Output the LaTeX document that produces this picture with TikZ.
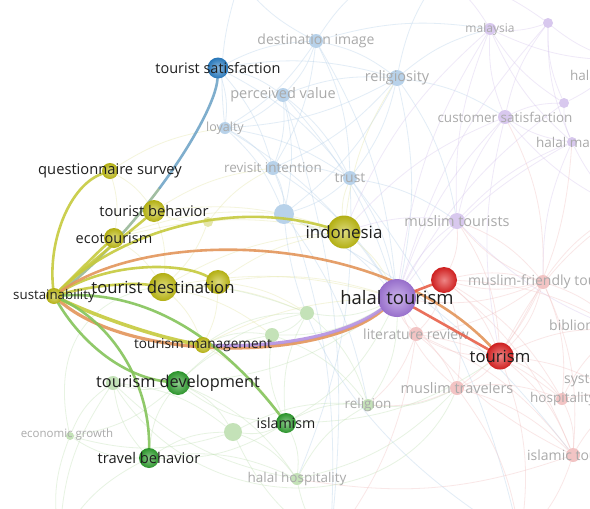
\documentclass[tikz,border=0pt]{standalone}
\usepackage{fontspec}
\setmainfont{Open Sans}
\pgfdeclarelayer{paper}
\pgfdeclarelayer{edgesbg}
\pgfdeclarelayer{faint}
\pgfdeclarelayer{edgesfg}
\pgfsetlayers{paper,edgesbg,faint,edgesfg,main}
\definecolor{yel}{HTML}{C2BE14}
\definecolor{grn}{HTML}{2EA02E}
\definecolor{blu}{HTML}{2A80C8}
\definecolor{pur}{HTML}{A478DC}
\definecolor{rd}{HTML}{E02222}
\definecolor{fblue}{HTML}{B8D2EA}
\definecolor{fpur}{HTML}{D8C8EE}
\definecolor{fred}{HTML}{F2C4C4}
\definecolor{fgrn}{HTML}{C4E2B8}
\definecolor{fyel}{HTML}{E4E6A8}
\definecolor{flbl}{HTML}{AAAAAA}
\definecolor{eyel}{HTML}{C6CA3E}
\definecolor{eora}{HTML}{E3955A}
\definecolor{egrn}{HTML}{84C45A}
\definecolor{eteal}{HTML}{98B898}
\definecolor{eblue}{HTML}{72A6C8}
\definecolor{epur}{HTML}{B492E2}
\definecolor{ered}{HTML}{E8614A}
\tikzset{
  ball/.style n args={2}{circle, inner sep=0pt, minimum size=#2,
    shading=radial, inner color=#1!55!white, outer color=#1!92!black},
  fnode/.style n args={2}{circle, inner sep=0pt, minimum size=#2, fill=#1},
  lbl/.style={inner sep=0pt, text=black!88, font=\fontsize{#1}{#1}\selectfont},
  flabel/.style={inner sep=0pt, text=flbl, font=\fontsize{#1}{#1}\selectfont},
  fedge/.style={draw=#1, line width=0.8pt, opacity=0.4},
  hedge/.style={draw=#1, line width=2.6pt, opacity=0.9, line cap=round},
}
\begin{document}
\begin{tikzpicture}[x=1pt,y=-1pt]
\useasboundingbox (0,0) rectangle (590,509);
\begin{pgfonlayer}{paper}
\fill[white] (0,0) rectangle (590,509);
\end{pgfonlayer}
\clip (0,0) rectangle (590,509);

% points just outside the frame where background links leave it
\coordinate (o1) at (380,-25);
\coordinate (o2) at (240,-20);
\coordinate (o3) at (620,60);
\coordinate (o4) at (625,210);
\coordinate (o5) at (620,330);
\coordinate (o6) at (625,400);
\coordinate (o7) at (520,540);
\coordinate (o8) at (330,545);
\coordinate (o9) at (60,540);
\coordinate (o10) at (440,-25);
% where the satisfaction link changes tint
\coordinate (tsmid) at (159.6,188);

% ---------- faint keywords ----------
\begin{pgfonlayer}{faint}
\node[fnode={fblue}{14pt}] (di) at (316,41) {};
\node[fnode={fblue}{14pt}] (pv) at (283,95) {};
\node[fnode={fblue}{16pt}] (rel) at (397,78) {};
\node[fnode={fblue}{12pt}] (loy) at (225,128) {};
\node[fnode={fblue}{14pt}] (ri) at (273,168) {};
\node[fnode={fblue}{14pt}] (tr) at (350,178) {};
\node[fnode={fblue}{20pt}] (bl1) at (284,214) {};
\node[fnode={fpur}{12pt}] (mal) at (490,29) {};
\node[fnode={fpur}{10pt}] (p1) at (548,23) {};
\node[fnode={fpur}{10pt}] (p2) at (564,103) {};
\node[fnode={fpur}{14pt}] (cs) at (505,117) {};
\node[fnode={fpur}{10pt}] (hm) at (572,142) {};
\node[fnode={fpur}{16pt}] (mt) at (457,221) {};
\node[fnode={fred}{14pt}] (mf) at (543,282) {};
\node[fnode={fred}{14pt}] (lr) at (416,334) {};
\node[fnode={fred}{12pt}] (hosp) at (562,399) {};
\node[fnode={fred}{14pt}] (it) at (573,455) {};
\node[fnode={fred}{14pt}] (mtr) at (457,388) {};
\node[fnode={fgrn}{12pt}] (relg) at (368,405) {};
\node[fnode={fgrn}{12pt}] (hh) at (297,479) {};
\node[fnode={fgrn}{18pt}] (g1) at (233,432) {};
\node[fnode={fgrn}{14pt}] (g2) at (113,383) {};
\node[fnode={fgrn}{14pt}] (g3) at (272,335) {};
\node[fnode={fgrn}{14pt}] (g4) at (307,313) {};
\node[fnode={fgrn}{8pt}] (eg) at (70,436) {};
\node[fnode={fyel}{10pt}] (y3) at (208,222) {};

\node[flabel=14] (di-l) at (di) {destination image};
\node[flabel=14.5] (pv-l) at (pv) {perceived value};
\node[flabel=14.5] (rel-l) at (rel) {religiosity};
\node[flabel=12.5] (loy-l) at (loy) {loyalty};
\node[flabel=13.5] (ri-l) at (ri) {revisit intention};
\node[flabel=14] (tr-l) at (tr) {trust};
\node[flabel=12] (mal-l) at (mal) {malaysia};
\node[flabel=13.5, anchor=west] (hal-l) at (570,75) {hala};
\node[flabel=13.5] (cs-l) at (cs) {customer satisfaction};
\node[flabel=13.5, anchor=west] (hm-l) at (536,142) {halal mar};
\node[flabel=14.5] (mt-l) at (mt) {muslim tourists};
\node[flabel=14, anchor=west] (mf-l) at (468,282) {muslim-friendly tou};
\node[flabel=14] (lr-l) at (lr) {literature review};
\node[flabel=14, anchor=west] (bib-l) at (549,325) {bibliom};
\node[flabel=14.5] (mtr-l) at (mtr) {muslim travelers};
\node[flabel=14, anchor=west] (sys-l) at (564,381) {syst};
\node[flabel=13.5, anchor=west] (hosp-l) at (530,399) {hospitality};
\node[flabel=14, anchor=west] (it-l) at (527,455) {islamic tou};
\node[flabel=13.5] (relg-l) at (relg) {religion};
\node[flabel=13.5] (hh-l) at (hh) {halal hospitality};
\node[flabel=11.5] (eg-l) at (67,435) {economic growth};
\end{pgfonlayer}

% ---------- highlighted keywords ----------
\node[ball={blu}{21pt}] (ts) at (218,68) {};
\node[ball={yel}{16pt}] (qs) at (110,171) {};
\node[ball={yel}{22pt}] (tb) at (154,211) {};
\node[ball={yel}{20pt}] (eco) at (114,238) {};
\node[ball={yel}{33pt}] (ind) at (344,232) {};
\node[ball={yel}{16pt}] (s) at (54,296) {};
\node[ball={yel}{28pt}] (td) at (163,287) {};
\node[ball={yel}{24pt}] (y2) at (218,282) {};
\node[ball={yel}{16pt}] (tm) at (203,345) {};
\node[ball={pur}{38pt}] (ht) at (397,298) {};
\node[ball={rd}{26pt}] (rn) at (444,280) {};
\node[ball={rd}{27pt}] (tou) at (500,356) {};
\node[ball={grn}{24pt}] (tdv) at (178,383) {};
\node[ball={grn}{20pt}] (isl) at (286,423) {};
\node[ball={grn}{20pt}] (tvb) at (149,458) {};

\node[lbl=14.5] (ts-l) at (ts) {tourist satisfaction};
\node[lbl=14.7] (qs-l) at (qs) {questionnaire survey};
\node[lbl=14.7] (tb-l) at (tb) {tourist behavior};
\node[lbl=14.5] (eco-l) at (eco) {ecotourism};
\node[lbl=16.9] (ind-l) at (ind) {indonesia};
\node[lbl=13.3] (s-l) at (s) {sustainability};
\node[lbl=16.7] (td-l) at (td) {tourist destination};
\node[lbl=13.6] (tm-l) at (tm) {tourism management};
\node[lbl=18.5] (ht-l) at (ht) {halal tourism};
\node[lbl=16.7] (tou-l) at (tou) {tourism};
\node[lbl=16.3] (tdv-l) at (tdv) {tourism development};
\node[lbl=14.2] (isl-l) at (isl) {islamism};
\node[lbl=14.7] (tvb-l) at (tvb) {travel behavior};

% ---------- background links ----------
\begin{pgfonlayer}{edgesbg}
\foreach \a/\b in {di/pv, di/rel, di/loy, di/ri, di/tr, di/o1, di/o2, pv/rel,
  pv/loy, pv/ri, pv/tr, pv/bl1, rel/loy, rel/ri, rel/tr, rel/bl1, rel/mal,
  rel/cs, loy/ri, loy/tr, loy/bl1, ri/tr, ri/bl1, tr/bl1, tr/mt, ts/di,
  ts/pv, ts/loy, ts/rel, ts/ri, ts/tr, bl1/ht, tr/ht, rel/ht, ri/ht, pv/ht,
  di/ht, loy/ht, rel/mt, tr/hh, bl1/relg, pv/o8, ri/o8, di/mal, loy/o2,
  rel/o10, tr/o7, bl1/it}
  \draw[fedge=fblue] (\a) to[bend left=12] (\b);
\foreach \a/\b in {mal/p1, mal/cs, mal/p2, mal/hm, mal/mt, mal/ht, p1/p2,
  p1/cs, p1/hm, p1/o3, p2/cs, p2/hm, cs/hm, cs/mt, cs/ht, hm/mt, hm/ht,
  mt/ht, p2/ht, p1/ht, mal/ind, cs/ind, mt/ind, cs/tou, hm/o4, mal/o10,
  p2/o3, cs/o4, mt/o5, mal/o3, p1/o10, hm/mf}
  \draw[fedge=fpur] (\a) to[bend right=12] (\b);
\foreach \a/\b in {mf/tou, mf/ht, mf/rn, mf/lr, mf/hosp, mf/it, mf/mtr,
  mf/o5, tou/lr, tou/hosp, tou/it, tou/mtr, tou/o5, tou/o6, tou/o7, lr/ht,
  lr/mtr, lr/hosp, lr/it, mtr/hosp, mtr/it, mtr/ht, hosp/it, hosp/o6,
  it/o7, it/ht, rn/tou, rn/mf, rn/lr, rn/mtr, rn/hosp, rn/it, mt/mf,
  mt/tou, mt/rn, cs/mf, hm/tou, mtr/relg, it/hh, mf/o4, lr/o8, mtr/o7,
  it/o6, rn/o5, hosp/o5, mf/mt, lr/relg, tou/o4}
  \draw[fedge=fred] (\a) to[bend left=14] (\b);
\foreach \a/\b in {relg/hh, relg/isl, relg/g1, relg/g3, relg/g4, relg/ht,
  hh/isl, hh/g1, hh/tvb, hh/tdv, g1/isl, g1/tdv, g1/g2, g1/tvb, g2/tdv,
  g2/tvb, g2/eg, g3/g4, g3/tdv, g3/isl, g4/ht, g4/tdv, g4/isl, tdv/isl,
  tdv/tvb, isl/ht, isl/tou, tdv/ht, tvb/isl, eg/tvb, eg/tdv, g2/o9,
  eg/o9, hh/o8, g1/o8, tvb/o9, g3/ht, g4/tm, g3/tm, relg/mtr, hh/mtr,
  g2/hh, eg/g1}
  \draw[fedge=fgrn] (\a) to[bend right=16] (\b);
\foreach \a/\b in {y3/ind, y3/tb, td/ind, td/ht, td/tm, y2/ind, y2/ht,
  tb/ind, eco/td, tm/ht, qs/tb, eco/ind, tm/isl, tb/td, y2/td, td/g3,
  ind/ht, ind/rel, ind/tr, y3/ri, qs/loy, tb/ri, eco/bl1, y2/g4, td/g4,
  ind/bl1, y3/td, y2/tm, qs/eco}
  \draw[fedge=fyel] (\a) to[bend left=12] (\b);
\draw[fedge=fgrn] (eg) .. controls (40,300) and (150,250) .. (g4);
\draw[fedge=fgrn] (g2) .. controls (200,520) and (400,520) .. (mtr);
\draw[fedge=fblue] (bl1) .. controls (300,380) and (420,480) .. (o7);
\end{pgfonlayer}

% ---------- highlighted links ----------
\begin{pgfonlayer}{edgesfg}
\draw[hedge=eteal] (s) .. controls (87,273) and (127.25,231.5) .. (tsmid);
\draw[hedge=eblue] (tsmid) .. controls (192,144.5) and (216.5,99) .. (ts);
\draw[hedge=eyel] (s) .. controls (48,240) and (70,185) .. (qs);
\draw[hedge=eyel] (s) .. controls (90,262) and (130,232) .. (tb);
\draw[hedge=eyel] (s) .. controls (80,270) and (100,250) .. (eco);
\draw[hedge=eyel] (s) .. controls (110,240) and (220,196) .. (ind);
\draw[hedge=eyel] (s) .. controls (90,286) and (130,282) .. (td);
\draw[hedge=eyel] (s) .. controls (110,262) and (180,262) .. (y2);
\draw[hedge=eora] (s) .. controls (150,228) and (380,230) .. (tou);
\draw[hedge=eora, line width=3.2pt] (s) .. controls (130,362) and (320,362) .. (ht);
\draw[hedge=epur, line width=3.2pt] (tm) .. controls (290,348) and (350,332) .. (ht);
\draw[hedge=eyel, line width=3.6pt] (s) .. controls (100,318) and (160,338) .. (tm);
\draw[hedge=egrn] (s) .. controls (80,340) and (120,376) .. (tdv);
\draw[hedge=egrn] (s) .. controls (110,322) and (150,380) .. (tvb);
\draw[hedge=egrn] (s) .. controls (150,290) and (222,340) .. (isl);
\draw[hedge=ered] (ht) -- (rn);
\draw[hedge=ered] (ht) -- (tou);
\end{pgfonlayer}
\end{tikzpicture}
\end{document}
